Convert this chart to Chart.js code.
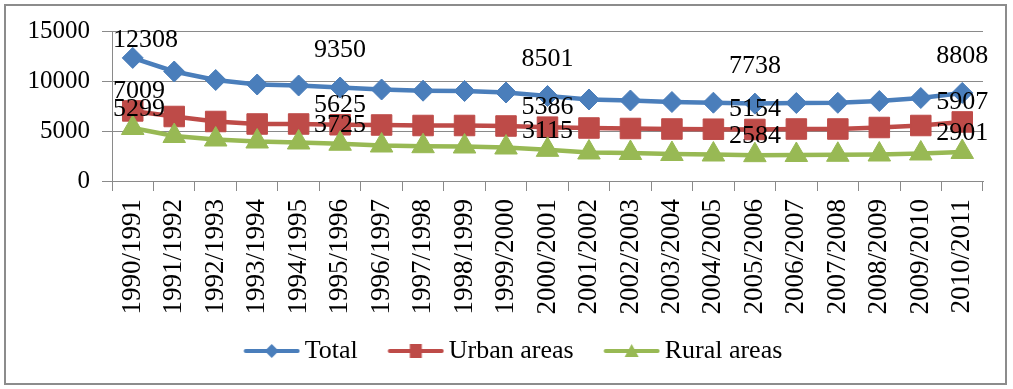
<!DOCTYPE html>
<html>
<head>
<meta charset="utf-8">
<script src="https://cdn.jsdelivr.net/npm/chart.js@4/dist/chart.umd.min.js"></script>
<style>
  html, body { margin: 0; padding: 0; background: #ffffff; }
  #wrap { width: 1013px; height: 389px; position: relative; }
</style>
</head>
<body>
<div id="wrap"><canvas id="c" width="1013" height="389"></canvas></div>
<script>
const categories = ['1990/1991','1991/1992','1992/1993','1993/1994','1994/1995','1995/1996','1996/1997','1997/1998','1998/1999','1999/2000','2000/2001','2001/2002','2002/2003','2003/2004','2004/2005','2005/2006','2006/2007','2007/2008','2008/2009','2009/2010','2010/2011'];
const totalValues = [12308, 10950, 10100, 9650, 9550, 9350, 9150, 9030, 9000, 8850, 8501, 8150, 8050, 7900, 7830, 7738, 7800, 7820, 8000, 8300, 8808];
const urbanValues = [7009, 6450, 5950, 5700, 5700, 5625, 5600, 5550, 5550, 5500, 5386, 5300, 5250, 5200, 5180, 5154, 5200, 5200, 5350, 5550, 5907];
const ruralValues = [5299, 4500, 4150, 3950, 3850, 3725, 3550, 3480, 3450, 3350, 3115, 2850, 2800, 2700, 2650, 2584, 2600, 2620, 2650, 2750, 2901];
const seriesNames = ['Total', 'Urban areas', 'Rural areas'];
const labeledIndices = [0, 5, 10, 15, 20];
const yTicks = [0, 5000, 10000, 15000];

const SERIF = "'Liberation Serif', 'Times New Roman', serif";
const BLUE = '#4A7EBB', RED = '#BE4B48', GREEN = '#98B954';
const GRID = '#8A8A8A';

// legend icon: line sample with marker, placed off-centre inside a wider transparent canvas
function legendIcon(color, kind) {
  const c = document.createElement('canvas');
  c.width = 78; c.height = 20;
  const g = c.getContext('2d');
  const L = 21.5, cx = L + 28;
  g.strokeStyle = color; g.lineWidth = 4; g.lineCap = 'round';
  g.beginPath(); g.moveTo(L + 2, 10); g.lineTo(L + 54, 10); g.stroke();
  g.fillStyle = color;
  g.beginPath();
  if (kind === 'diamond') {
    g.moveTo(cx, 3); g.lineTo(cx + 7, 10); g.lineTo(cx, 17); g.lineTo(cx - 7, 10);
  } else if (kind === 'square') {
    g.rect(cx - 6, 3, 12, 14);
  } else {
    g.moveTo(cx, 3); g.lineTo(cx + 7, 16); g.lineTo(cx - 7, 16);
  }
  g.closePath(); g.fill();
  return c;
}
const icons = [legendIcon(BLUE, 'diamond'), legendIcon(RED, 'square'), legendIcon(GREEN, 'triangle')];

const frame = {
  id: 'frame',
  beforeDraw(chart) {
    const ctx = chart.ctx;
    ctx.save();
    ctx.fillStyle = '#ffffff';
    ctx.fillRect(0, 0, chart.width, chart.height);
    ctx.strokeStyle = '#8C8C8C';
    ctx.lineWidth = 2;
    ctx.strokeRect(5, 5, 1001, 379);
    ctx.restore();
  }
};

const valueLabels = {
  id: 'valueLabels',
  afterDatasetsDraw(chart) {
    const ctx = chart.ctx;
    const area = chart.chartArea;
    const offsets = [37, 20, 19];
    ctx.save();
    ctx.font = '26px ' + SERIF;
    ctx.fillStyle = '#000000';
    ctx.textAlign = 'left';
    ctx.textBaseline = 'middle';
    chart.data.datasets.forEach((ds, di) => {
      const meta = chart.getDatasetMeta(di);
      labeledIndices.forEach(i => {
        const p = meta.data[i];
        if (!p) return;
        const txt = String(ds.data[i]);
        const w = ctx.measureText(txt).width;
        let x = p.x - w / 2;
        if (x < area.left + 1) x = area.left + 1;
        let y = p.y - offsets[di];
        if (y < area.top + 9) y = area.top + 9;
        ctx.fillText(txt, x, y);
      });
    });
    ctx.restore();
  }
};

new Chart(document.getElementById('c'), {
  type: 'line',
  data: {
    labels: categories,
    datasets: [
      { label: seriesNames[0], data: totalValues, borderColor: BLUE, backgroundColor: BLUE,
        borderWidth: 4.5, pointStyle: 'rectRot', pointRadius: 10.5, pointBorderWidth: 1,
        pointBackgroundColor: BLUE, pointBorderColor: BLUE, tension: 0, order: 3 },
      { label: seriesNames[1], data: urbanValues, borderColor: RED, backgroundColor: RED,
        borderWidth: 4.5, pointStyle: 'rect', pointRadius: 14.5, pointBorderWidth: 1,
        pointBackgroundColor: RED, pointBorderColor: RED, tension: 0, order: 2 },
      { label: seriesNames[2], data: ruralValues, borderColor: GREEN, backgroundColor: GREEN,
        borderWidth: 4.5, pointStyle: 'triangle', pointRadius: 13, pointBorderWidth: 1,
        pointBackgroundColor: GREEN, pointBorderColor: GREEN, tension: 0, order: 1 }
    ]
  },
  options: {
    responsive: false,
    animation: false,
    devicePixelRatio: 1,
    layout: { padding: { top: 31, right: 0, left: 0, bottom: 15 } },
    plugins: {
      tooltip: { enabled: false },
      title: { display: false },
      legend: {
        display: true,
        position: 'bottom',
        maxHeight: 53,
        labels: {
          usePointStyle: true,
          pointStyleWidth: 61,
          boxWidth: 61,
          padding: 17,
          color: '#000000',
          font: { family: SERIF, size: 26 },
          generateLabels(chart) {
            return seriesNames.map((name, i) => ({
              text: name,
              pointStyle: icons[i],
              fillStyle: 'transparent',
              strokeStyle: 'transparent',
              lineWidth: 0,
              hidden: false,
              datasetIndex: i
            }));
          }
        }
      }
    },
    scales: {
      x: {
        type: 'category',
        offset: true,
        grid: { display: true, drawOnChartArea: false, drawTicks: true, tickLength: 10, color: GRID, offset: true },
        border: { display: true, color: GRID, width: 1 },
        ticks: {
          autoSkip: false, maxRotation: 90, minRotation: 90, padding: 8,
          color: '#000000', font: { family: SERIF, size: 27 }
        },
        afterFit(scale) { scale.height = 140; }
      },
      y: {
        min: 0, max: 15000,
        afterBuildTicks(scale) { scale.ticks = yTicks.map(v => ({ value: v })); },
        grid: { display: true, drawOnChartArea: true, drawTicks: true, tickLength: 10, color: GRID },
        border: { display: true, color: GRID, width: 1 },
        ticks: { padding: 12, color: '#000000', font: { family: SERIF, size: 25 },
                 callback: (v) => String(v) },
        afterFit(scale) { scale.width = 112; }
      },
      spacer: {
        position: 'right',
        display: true,
        grid: { display: false, drawTicks: false },
        border: { display: false },
        ticks: { display: false },
        afterFit(scale) { scale.width = 30; }
      }
    }
  },
  plugins: [frame, valueLabels]
});
</script>
</body>
</html>
